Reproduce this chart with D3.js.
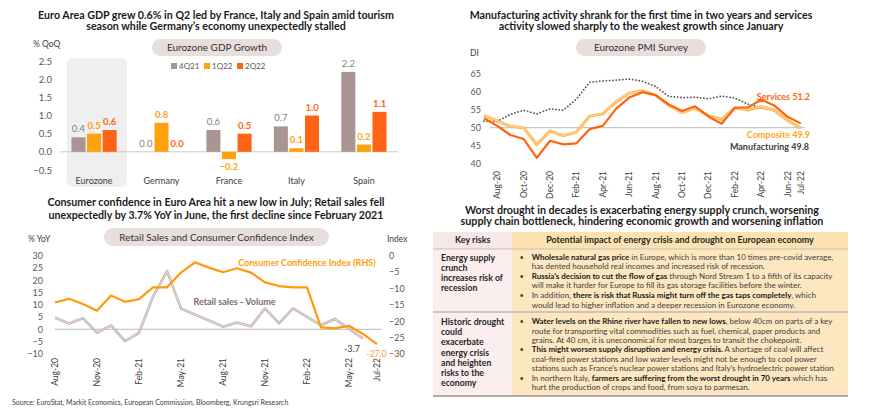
<!DOCTYPE html>
<html>
<head>
<meta charset="utf-8">
<script src="https://cdn.jsdelivr.net/npm/d3@7"></script>
<style>
  body { margin: 0; background: #fff; }
  svg { display: block; font-family: Lato, "Open Sans", sans-serif; }
</style>
</head>
<body>
<svg id="chart" width="870" height="419"></svg>
<script>
// ---- data ----
var gdpCats = ["Eurozone", "Germany", "France", "Italy", "Spain"];
var gdpSeries = ["4Q21", "1Q22", "2Q22"];
var gdp4Q21 = [0.4, 0.0, 0.6, 0.7, 2.2];
var gdp1Q22 = [0.5, 0.8, -0.2, 0.1, 0.2];
var gdp2Q22 = [0.6, 0.0, 0.5, 1.0, 1.1];
var gdpTicks = [-0.5, 0, 0.5, 1, 1.5, 2, 2.5];

var pmiMonths = ["Jul-20", "Aug-20", "Sep-20", "Oct-20", "Nov-20", "Dec-20", "Jan-21", "Feb-21", "Mar-21",
  "Apr-21", "May-21", "Jun-21", "Jul-21", "Aug-21", "Sep-21", "Oct-21", "Nov-21", "Dec-21", "Jan-22",
  "Feb-22", "Mar-22", "Apr-22", "May-22", "Jun-22", "Jul-22"];
var pmiTickLabels = ["Aug-20", "Oct-20", "Dec-20", "Feb-21", "Apr-21", "Jun-21", "Aug-21", "Oct-21",
  "Dec-21", "Feb-22", "Apr-22", "Jun-22", "Jul-22"];
var pmiTicks = [40, 45, 50, 55, 60, 65];
var pmiServices = [52.6, 50.5, 48.0, 46.9, 41.7, 46.4, 45.4, 45.7, 49.6, 50.5, 55.2, 58.3, 59.8, 59.0,
  56.4, 54.6, 55.9, 53.1, 51.1, 55.5, 55.6, 57.7, 56.1, 53.0, 51.2];
var pmiComposite = [53.4, 51.9, 50.4, 50.0, 45.3, 49.1, 47.8, 48.8, 53.2, 53.8, 57.1, 59.5, 60.2, 59.0,
  56.2, 54.2, 55.4, 53.3, 52.3, 55.5, 54.9, 55.8, 54.8, 52.0, 49.9];
var pmiManufacturing = [51.8, 51.7, 53.7, 54.8, 53.8, 55.2, 54.8, 57.9, 62.5, 62.9, 63.1, 63.4, 62.8,
  61.4, 58.6, 58.3, 58.4, 58.0, 58.7, 58.2, 56.5, 55.5, 54.6, 52.1, 49.8];

var rsMonths = ["Aug-20", "Sep-20", "Oct-20", "Nov-20", "Dec-20", "Jan-21", "Feb-21", "Mar-21", "Apr-21",
  "May-21", "Jun-21", "Jul-21", "Aug-21", "Sep-21", "Oct-21", "Nov-21", "Dec-21", "Jan-22", "Feb-22",
  "Mar-22", "Apr-22", "May-22", "Jun-22", "Jul-22"];
var rsTickLabels = ["Aug-20", "Nov-20", "Feb-21", "May-21", "Aug-21", "Nov-21", "Feb-22", "May-22", "Jul-22"];
var retailSales = [4.7, 2.4, 4.5, -1.4, 1.6, -4.8, -1.4, 13.3, 23.7, 8.5, 6.0, 3.6, 1.1, 2.8, 1.3, 8.5,
  2.4, 8.5, 5.1, 1.7, 4.2, 0.2, -3.7];
var consumerConf = [-14.3, -13.2, -14.8, -16.8, -12.2, -14.1, -13.3, -9.7, -9.7, -5.2, -2.1, -3.7, -5.1,
  -3.9, -5.2, -8.2, -9.3, -9.7, -9.7, -21.9, -22.2, -21.4, -23.9, -27.0];
var rsLeftTicks = [-10, -5, 0, 5, 10, 15, 20, 25, 30];
var rsRightTicks = [-30, -25, -20, -15, -10, -5, 0];

var riskKeys = [
  ["Energy supply", "crunch", "increases risk of", "recession"],
  ["Historic drought", "could", "exacerbate", "energy crisis", "and heighten", "risks to the", "economy"]
];
var riskImpacts = [
  [
    ["**Wholesale natural gas price** in Europe, which is more than 10 times pre-covid average,",
     "has dented household real incomes and increased risk of recession."],
    ["**Russia\u2019s decision to cut the flow of gas** through Nord Stream 1 to a fifth of its capacity",
     "will make it harder for Europe to fill its gas storage facilities before the winter."],
    ["In addition, **there is risk that Russia might turn off the gas taps completely**, which",
     "would lead to higher inflation and a deeper recession in Eurozone economy."]
  ],
  [
    ["**Water levels on the Rhine river have fallen to new lows**, below 40cm on parts of a key",
     "route for transporting vital commodities such as fuel, chemical, paper products and",
     "grains. At 40 cm, it is uneconomical for most barges to transit the chokepoint."],
    ["**This might worsen supply disruption and energy crisis.** A shortage of coal will affect",
     "coal-fired power stations and low water levels might not be enough to cool power",
     "stations such as France\u2019s nuclear power stations and Italy\u2019s hydroelectric power station"],
    ["In northern Italy, **farmers are suffering from the worst drought in 70 years** which has",
     "hurt the production of crops and food, from soya to parmesan."]
  ]
];

// ---- helpers ----
var svg = d3.select("#chart");
svg.append("rect").attr("width", 870).attr("height", 419).attr("fill", "#fff");

function fitWidth(t, w) {
  var cur = t.node().getComputedTextLength();
  var fs = parseFloat(t.attr("font-size"));
  t.attr("font-size", (fs * w / cur).toFixed(2));
}

function title(lines, cx, ys, widths) {
  lines.forEach(function(s, i) {
    var t = svg.append("text").attr("x", cx).attr("y", ys[i])
      .attr("text-anchor", "middle").attr("font-size", 11).attr("font-weight", 700)
      .attr("fill", "#1a1a1a").text(s);
    fitWidth(t, widths[i]);
  });
}

function pill(x0, x1, y0, y1, label) {
  svg.append("rect").attr("x", x0).attr("y", y0).attr("width", x1 - x0).attr("height", y1 - y0)
    .attr("rx", (y1 - y0) / 2).attr("fill", "#e8dedb");
  svg.append("text").attr("x", (x0 + x1) / 2).attr("y", (y0 + y1) / 2 + 3.5)
    .attr("text-anchor", "middle").attr("font-size", 10).attr("fill", "#333").text(label);
}

// ================= GDP chart =================
title(["Euro Area GDP grew 0.6% in Q2 led by France, Italy and Spain amid tourism",
       "season while Germany\u2019s economy unexpectedly stalled"], 216, [18.5, 30], [356, 260]);
pill(152, 282, 39, 56, "Eurozone GDP Growth");

var xG = d3.scaleBand().domain(gdpCats).range([60, 398]).paddingInner(0.33).paddingOuter(0.17);
var xS = d3.scaleBand().domain(gdpSeries).range([0, xG.bandwidth()]).paddingInner(0.1);
var yG = d3.scaleLinear().domain([-0.5, 2.5]).range([170, 61]);
var gdpColors = {"4Q21": "#a99592", "1Q22": "#ffa10d", "2Q22": "#ff6414"};
var gdpLabelColors = {"4Q21": "#7f7f7f", "1Q22": "#ffa10d", "2Q22": "#ff6414"};
var gdpVals = {"4Q21": gdp4Q21, "1Q22": gdp1Q22, "2Q22": gdp2Q22};

svg.append("rect").attr("x", 67).attr("y", 58).attr("width", 60).attr("height", 129)
  .attr("rx", 6).attr("fill", "#efefef");

svg.append("text").attr("x", 33).attr("y", 47).attr("font-size", 8.5).attr("fill", "#404040").text("% QoQ");

var gyAxis = svg.append("g").attr("transform", "translate(52,0)")
  .call(d3.axisLeft(yG).tickValues(gdpTicks).tickFormat(d3.format(".1f")).tickSize(0).tickPadding(0));
gyAxis.select(".domain").remove();
gyAxis.selectAll("text").attr("font-size", 9.5).attr("fill", "#595959").attr("font-family", "Lato, sans-serif");

svg.append("line").attr("x1", 60).attr("x2", 398).attr("y1", yG(0)).attr("y2", yG(0))
  .attr("stroke", "#c8c8c8").attr("stroke-width", 1);

gdpSeries.forEach(function(s) {
  var g = svg.append("g");
  g.selectAll("rect").data(gdpVals[s]).enter().append("rect")
    .attr("x", function(d, i) { return xG(gdpCats[i]) + xS(s); })
    .attr("width", xS.bandwidth())
    .attr("y", function(d) { return yG(Math.max(0, d)); })
    .attr("height", function(d) { return Math.abs(yG(d) - yG(0)); })
    .attr("fill", gdpColors[s]);
  g.selectAll("text").data(gdpVals[s]).enter().append("text")
    .attr("x", function(d, i) { return xG(gdpCats[i]) + xS(s) + xS.bandwidth() / 2; })
    .attr("y", function(d) { return d < 0 ? yG(d) + 11 : yG(d) - 5; })
    .attr("text-anchor", "middle").attr("font-size", 9.5)
    .attr("font-weight", s === "4Q21" ? 400 : 700)
    .attr("fill", gdpLabelColors[s]).text(function(d) { return d3.format(".1f")(d); });
});

svg.append("g").selectAll("text").data(gdpCats).enter().append("text")
  .attr("x", function(d) { return xG(d) + xG.bandwidth() / 2; }).attr("y", 183.5)
  .attr("text-anchor", "middle").attr("font-size", 9).attr("fill", "#404040").text(function(d) { return d; });

var legG = svg.append("g").selectAll("g").data(gdpSeries).enter().append("g")
  .attr("transform", function(d, i) { return "translate(" + (171 + i * 33) + ",66)"; });
legG.append("rect").attr("x", 0).attr("y", -3).attr("width", 6).attr("height", 6)
  .attr("fill", function(d) { return gdpColors[d]; });
legG.append("text").attr("x", 8).attr("y", 3).attr("font-size", 8).attr("fill", "#595959")
  .text(function(d) { return d; });

// ================= PMI chart =================
title(["Manufacturing activity shrank for the first time in two years and services",
       "activity slowed sharply to the weakest growth since January"], 641, [18.5, 30], [343, 285]);
pill(576, 706, 39, 56, "Eurozone PMI Survey");

var xP = d3.scalePoint().domain(pmiMonths).range([484, 800.8]);
var yP = d3.scaleLinear().domain([40, 65]).range([164, 73.3]);

svg.append("text").attr("x", 470).attr("y", 56).attr("font-size", 8.5).attr("fill", "#404040").text("DI");

var pyAxis = svg.append("g").attr("transform", "translate(481,0)")
  .call(d3.axisLeft(yP).tickValues(pmiTicks).tickSize(0).tickPadding(0));
pyAxis.select(".domain").remove();
pyAxis.selectAll("text").attr("font-size", 9).attr("fill", "#595959").attr("font-family", "Lato, sans-serif");

svg.append("line").attr("x1", 490).attr("x2", 805).attr("y1", yP(50)).attr("y2", yP(50))
  .attr("stroke", "#c8c8c8").attr("stroke-width", 1.2);

svg.append("g").selectAll("text").data(pmiTickLabels).enter().append("text")
  .attr("transform", function(d) { return "translate(" + xP(d) + ",171) rotate(-90)"; })
  .attr("dy", "0.35em").attr("text-anchor", "end").attr("font-size", 8.5).attr("fill", "#404040")
  .text(function(d) { return d; });

var pLine = function(vals) {
  return d3.line().x(function(d, i) { return xP(pmiMonths[i]); }).y(function(d) { return yP(d); })(vals);
};
svg.append("path").attr("d", pLine(pmiManufacturing)).attr("fill", "none")
  .attr("stroke", "#5f5555").attr("stroke-width", 1.8).attr("stroke-dasharray", "0.1,3.2")
  .attr("stroke-linecap", "round");
svg.append("path").attr("d", pLine(pmiComposite)).attr("fill", "none")
  .attr("stroke", "#ffb54a").attr("stroke-width", 3).attr("stroke-linejoin", "round");
svg.append("path").attr("d", pLine(pmiComposite)).attr("fill", "none")
  .attr("stroke", "#ffdca6").attr("stroke-width", 1).attr("stroke-linejoin", "round");
svg.append("path").attr("d", pLine(pmiServices)).attr("fill", "none")
  .attr("stroke", "#ff6410").attr("stroke-width", 2.2).attr("stroke-linejoin", "round");

svg.append("text").attr("x", 810).attr("y", 100).attr("text-anchor", "end").attr("font-size", 9)
  .attr("font-weight", 700).attr("fill", "#ff6410").text("Services 51.2");
svg.append("text").attr("x", 810).attr("y", 138).attr("text-anchor", "end").attr("font-size", 9)
  .attr("font-weight", 700).attr("fill", "#ffa322").text("Composite 49.9");
svg.append("text").attr("x", 809).attr("y", 149.5).attr("text-anchor", "end").attr("font-size", 9)
  .attr("font-weight", 700).attr("fill", "#404040").text("Manufacturing 49.8");

// ================= Retail / confidence chart =================
title(["Consumer confidence in Euro Area hit a new low in July; Retail sales fell",
       "unexpectedly by 3.7% YoY in June, the first decline since February 2021"], 216, [205.5, 218.5], [337, 335]);
pill(104, 329, 228, 246, "Retail Sales and Consumer Confidence Index");

var xR = d3.scalePoint().domain(rsMonths).range([55, 377]);
var yL = d3.scaleLinear().domain([-10, 30]).range([354, 255.5]);
var yRt = d3.scaleLinear().domain([-30, 0]).range([354, 255.5]);

svg.append("text").attr("x", 28).attr("y", 242).attr("font-size", 8.5).attr("fill", "#404040").text("% YoY");
svg.append("text").attr("x", 387).attr("y", 242).attr("font-size", 8.5).attr("fill", "#404040").text("Index");

var lAxis = svg.append("g").attr("transform", "translate(43,0)")
  .call(d3.axisLeft(yL).tickValues(rsLeftTicks).tickSize(0).tickPadding(0));
lAxis.select(".domain").remove();
lAxis.selectAll("text").attr("font-size", 9).attr("fill", "#595959").attr("font-family", "Lato, sans-serif");
var rAxis = svg.append("g").attr("transform", "translate(389,0)")
  .call(d3.axisRight(yRt).tickValues(rsRightTicks).tickSize(0).tickPadding(0));
rAxis.select(".domain").remove();
rAxis.selectAll("text").attr("font-size", 9).attr("fill", "#595959").attr("font-family", "Lato, sans-serif");

svg.append("line").attr("x1", 55).attr("x2", 382).attr("y1", yL(0)).attr("y2", yL(0))
  .attr("stroke", "#c8c8c8").attr("stroke-width", 1.2);

svg.append("g").selectAll("text").data(rsTickLabels).enter().append("text")
  .attr("transform", function(d) { return "translate(" + xR(d) + ",358) rotate(-90)"; })
  .attr("dy", "0.35em").attr("text-anchor", "end").attr("font-size", 8.5).attr("fill", "#404040")
  .text(function(d) { return d; });

var rsPath = d3.line().x(function(d, i) { return xR(rsMonths[i]); }).y(function(d) { return yL(d); })(retailSales);
svg.append("path").attr("d", rsPath).attr("fill", "none").attr("stroke", "#c3b3b0")
  .attr("stroke-width", 2.6).attr("stroke-linejoin", "round");
svg.append("path").attr("d", rsPath).attr("fill", "none").attr("stroke", "#ebe3e2")
  .attr("stroke-width", 0.8).attr("stroke-linejoin", "round");
var ccPath = d3.line().x(function(d, i) { return xR(rsMonths[i]); }).y(function(d) { return yRt(d); })(consumerConf);
svg.append("path").attr("d", ccPath).attr("fill", "none").attr("stroke", "#ff9a0a")
  .attr("stroke-width", 2.2).attr("stroke-linejoin", "round");

svg.append("text").attr("x", 234.5).attr("y", 305).attr("text-anchor", "middle").attr("font-size", 9)
  .attr("font-weight", 700).attr("fill", "#7a6c6b").text("Retail sales - Volume");
svg.append("text").attr("x", 307).attr("y", 266).attr("text-anchor", "middle").attr("font-size", 9)
  .attr("font-weight", 700).attr("fill", "#ff9a0a").text("Consumer Confidence Index (RHS)");
svg.append("text").attr("x", 352).attr("y", 352).attr("text-anchor", "middle").attr("font-size", 9)
  .attr("fill", "#404040").text("-3.7");
svg.append("text").attr("x", 386.5).attr("y", 357).attr("text-anchor", "end").attr("font-size", 8.5)
  .attr("fill", "#ff9a2e").text("-27.0");

svg.append("text").attr("x", 12).attr("y", 404.5).attr("font-size", 7).attr("fill", "#404040")
  .text("Source: EuroStat, Markit Economics, European Commission, Bloomberg, Krungsri Research");

// ================= Risk table =================
title(["Worst drought in decades is exacerbating energy supply crunch, worsening",
       "supply chain bottleneck, hindering economic growth and worsening inflation"], 642, [213.5, 225], [354, 363]);

var tX0 = 433, tSplit = 512, tX1 = 848;
var rowY = [232, 249, 312, 396];
svg.append("rect").attr("x", tX0).attr("y", rowY[0]).attr("width", tSplit - tX0).attr("height", rowY[1] - rowY[0]).attr("fill", "#f7e7e7");
svg.append("rect").attr("x", tSplit).attr("y", rowY[0]).attr("width", tX1 - tSplit).attr("height", rowY[1] - rowY[0]).attr("fill", "#fde1b0");
svg.append("rect").attr("x", tX0).attr("y", rowY[1]).attr("width", tSplit - tX0).attr("height", rowY[3] - rowY[1]).attr("fill", "#faeeee");
svg.append("rect").attr("x", tSplit).attr("y", rowY[1]).attr("width", tX1 - tSplit).attr("height", rowY[3] - rowY[1]).attr("fill", "#fde7c0");
[[rowY[1], 1, "#cbbdbd"], [rowY[2], 1.5, "#c2b6b6"], [rowY[3], 2, "#b3a9a9"]].forEach(function(l) {
  svg.append("line").attr("x1", tX0).attr("x2", tX1).attr("y1", l[0]).attr("y2", l[0])
    .attr("stroke", l[2]).attr("stroke-width", l[1]);
});

var h1 = svg.append("text").attr("x", 472.7).attr("y", 243).attr("text-anchor", "middle").attr("font-size", 8.5)
  .attr("font-weight", 700).attr("fill", "#262626").text("Key risks");
var h2 = svg.append("text").attr("x", 680).attr("y", 243).attr("text-anchor", "middle").attr("font-size", 8.5)
  .attr("font-weight", 700).attr("fill", "#262626").text("Potential impact of energy crisis and drought on European economy");
fitWidth(h2, 268);
h1.attr("font-size", h2.attr("font-size"));

// left column
var keyStarts = [260.7, 325];
var keyTexts = [];
riskKeys.forEach(function(lines, r) {
  lines.forEach(function(s, i) {
    keyTexts.push(svg.append("text").attr("x", 441).attr("y", keyStarts[r] + i * 10.2)
      .attr("font-size", 8.5).attr("font-weight", 700).attr("fill", "#262626").text(s));
  });
});
var kRef = keyTexts[2];
var k0 = parseFloat(kRef.attr("font-size"));
fitWidth(kRef, 62);
var kScale = parseFloat(kRef.attr("font-size")) / k0;
keyTexts.forEach(function(t) { t.attr("font-size", (k0 * kScale).toFixed(2)); });

// right column
var bodyStarts = [259.6, 324.2];
var bodySteps = [9.6, 9.43];
var bodyTexts = [];
riskImpacts.forEach(function(items, r) {
  var li = 0;
  items.forEach(function(lines) {
    lines.forEach(function(s, j) {
      var y = bodyStarts[r] + li * bodySteps[r];
      if (j === 0) {
        svg.append("text").attr("x", 519.5).attr("y", y).attr("font-size", 7.5)
          .attr("fill", "#404040").text("\u2022");
      }
      var t = svg.append("text").attr("x", 531.7).attr("y", y).attr("font-size", 7.5).attr("fill", "#404040");
      s.split("**").forEach(function(seg, k) {
        if (!seg) return;
        t.append("tspan").attr("font-weight", k % 2 ? 700 : 400).attr("fill", k % 2 ? "#1a1a1a" : "#404040").text(seg);
      });
      bodyTexts.push(t);
      li++;
    });
  });
});
var bRef = bodyTexts[11];
fitWidth(bRef, 302);
var bSize = parseFloat(bRef.attr("font-size"));
bodyTexts.forEach(function(t) { t.attr("font-size", bSize); });
</script>
</body>
</html>
